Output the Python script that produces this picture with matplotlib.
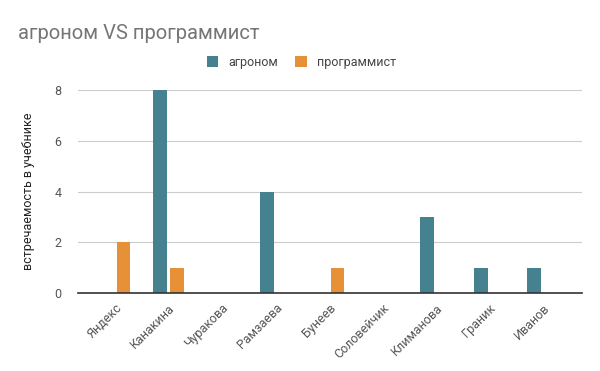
import numpy as np
import matplotlib.pyplot as plt

plt.rcParams['font.family'] = ['Roboto', 'DejaVu Sans']

authors = ["Яндекс", "Канакина", "Чуракова", "Рамзаева", "Бунеев",
           "Соловейчик", "Климанова", "Граник", "Иванов"]
agronom = [0, 8, 0, 4, 0, 0, 3, 1, 1]
programmist = [2, 1, 0, 0, 1, 0, 0, 0, 0]

teal = "#45818e"
orange = "#e69138"

fig = plt.figure(figsize=(6, 3.71), dpi=100)
ax = fig.add_axes([0.13, 0.21, 0.84, 0.547])

x = np.arange(len(authors))
w = 0.26
ax.bar(x - 0.16, agronom, w, color=teal, label="агроном", zorder=3)
ax.bar(x + 0.16, programmist, w, color=orange, label="программист", zorder=3)

ax.set_xlim(-0.69, 8.73)
ax.set_ylim(0, 8)
ax.set_yticks([0, 2, 4, 6, 8])
ax.yaxis.grid(True, color="#cccccc", linewidth=0.8, zorder=0)
ax.set_axisbelow(True)
for s in ["top", "right", "left"]:
    ax.spines[s].set_visible(False)
ax.spines["bottom"].set_color("#333333")
ax.spines["bottom"].set_linewidth(1.2)
ax.spines["bottom"].set_zorder(4)

ax.set_xticks(x)
ax.set_xticklabels(authors, rotation=45, ha="right", rotation_mode="anchor")
ax.tick_params(axis="both", length=0, labelsize=9, colors="#555555", pad=6)
ax.tick_params(axis="y", pad=12)

ax.set_ylabel("встречаемость в учебнике", fontsize=9, color="#222222", labelpad=14)

fig.text(0.03, 0.91, "агроном VS программист", fontsize=14.5, color="#757575", va="center")
fig.legend(loc="center", bbox_to_anchor=(0.502, 0.832), ncol=2, frameon=False,
           fontsize=9, handlelength=0.9, handleheight=0.9, columnspacing=1.4,
           handletextpad=0.8, labelcolor="#444444")

fig.savefig("out.png", dpi=100)
